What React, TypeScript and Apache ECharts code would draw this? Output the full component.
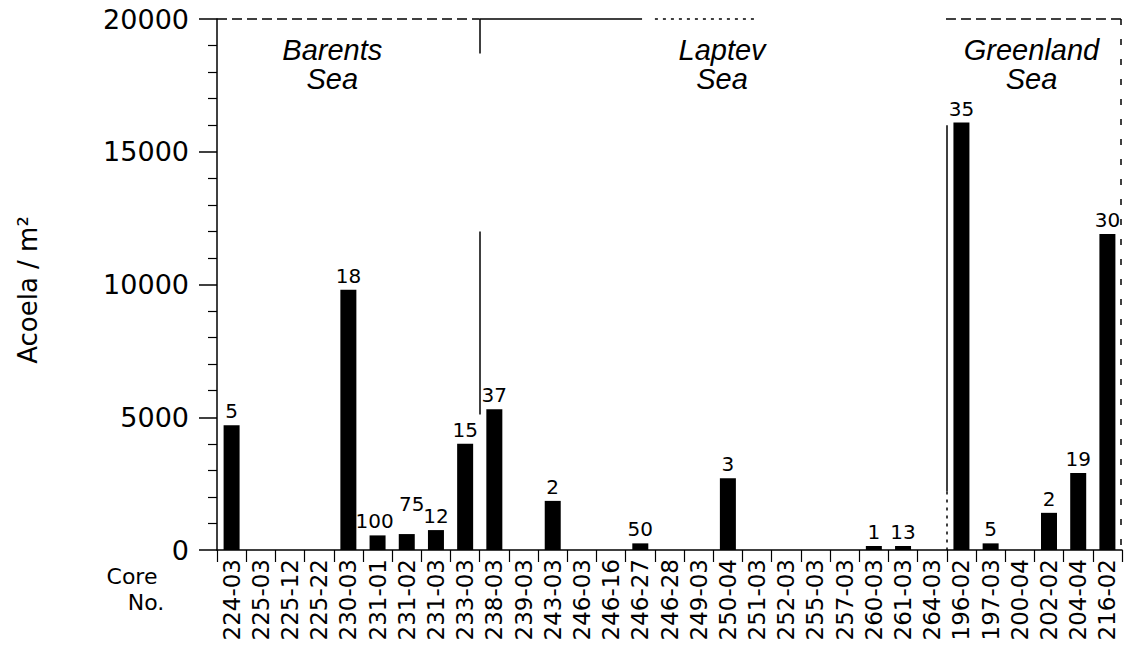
import React, { useEffect, useRef } from "react";
import * as echarts from "echarts";

const categories = [
  "224-03", "225-03", "225-12", "225-22", "230-03", "231-01", "231-02", "231-03", "233-03",
  "238-03", "239-03", "243-03", "246-03", "246-16", "246-27", "246-28", "249-03", "250-04",
  "251-03", "252-03", "255-03", "257-03", "260-03", "261-03", "264-03",
  "196-02", "197-03", "200-04", "202-02", "204-04", "216-02",
];
const acoelaPerM2 = [
  4700, 0, 0, 0, 9800, 550, 600, 750, 4000,
  5300, 0, 1850, 0, 0, 250, 0, 0, 2700,
  0, 0, 0, 0, 150, 150, 0,
  16100, 250, 0, 1400, 2900, 11900,
];
const sampleCounts: (number | null)[] = [
  5, null, null, null, 18, 100, 75, 12, 15,
  37, null, 2, null, null, 50, null, null, 3,
  null, null, null, null, 1, 13, null,
  35, 5, null, 2, 19, 30,
];
const yTickValues = [0, 5000, 10000, 15000, 20000];
const regionNames = ["Barents\nSea", "Laptev\nSea", "Greenland\nSea"];
const regionCenters = [3.95, 17.3, 27.9];
const regionLabelY = 18270;

// separators / frame segments: [x1, y1, x2, y2, dash]
const frameSegments: [number, number, number, number, string][] = [
  [0, 20000, 9, 20000, "dashed"],
  [9, 20000, 14.56, 20000, "solid"],
  [15.0, 20000, 18.43, 20000, "dotted"],
  [24.97, 20000, 31, 20000, "dashed"],
  [9, 20000, 9, 18700, "solid"],
  [9, 12000, 9, 5100, "solid"],
  [25, 16000, 25, 2200, "solid"],
  [25, 2200, 25, 0, "dotted"],
  [30.97, 20000, 30.97, 0, "sparse"],
];

function dashOf(kind: string): any {
  if (kind === "dashed") return [10, 5];
  if (kind === "dotted") return [3, 5];
  if (kind === "sparse") return [6, 14];
  return "solid";
}

export default function App() {
  const ref = useRef<HTMLDivElement>(null);
  useEffect(() => {
    const chart = echarts.init(ref.current!, null, { renderer: "svg" });
    const option: any = {
      animation: false,
      backgroundColor: "#ffffff",
      grid: { left: 217, right: 3, top: 19, bottom: 102, containLabel: false },
      xAxis: [
        {
          type: "category",
          data: categories,
          boundaryGap: true,
          axisLine: { show: true, lineStyle: { color: "#000", width: 1.5 } },
          axisTick: { show: true, alignWithLabel: false, length: 12, lineStyle: { color: "#000", width: 1.2 } },
          axisLabel: {
            rotate: 90,
            interval: 0,
            margin: 9,
            color: "#000",
            fontFamily: "DejaVu Sans",
            fontSize: 23,
          },
        },
        { type: "value", min: 0, max: 31, show: false },
      ],
      yAxis: {
        type: "value",
        min: 0,
        max: 20000,
        interval: 5000,
        axisLine: { show: true, lineStyle: { color: "#000", width: 1.5 } },
        axisTick: { show: true, inside: false, length: 18, lineStyle: { color: "#000", width: 1.5 } },
        minorTick: { show: true, splitNumber: 5, length: 9, lineStyle: { color: "#000", width: 1.2 } },
        splitLine: { show: false },
        axisLabel: {
          margin: 28,
          color: "#000",
          fontFamily: "DejaVu Sans",
          fontSize: 27,
          formatter: (v: number) => (yTickValues.includes(v) ? String(v) : ""),
        },
      },
      series: [
        {
          type: "bar",
          data: acoelaPerM2.map((v, i) => ({
            value: v,
            label:
              i === 5
                ? { show: true, offset: [-3, 0] }
                : i === 6
                ? { show: true, offset: [5, -16] }
                : { show: sampleCounts[i] !== null },
          })),
          barWidth: 16,
          itemStyle: { color: "#000" },
          label: {
            position: "top",
            distance: 4,
            color: "#000",
            fontFamily: "DejaVu Sans",
            fontSize: 20,
            formatter: (p: any) => (sampleCounts[p.dataIndex] === null ? "" : String(sampleCounts[p.dataIndex])),
          },
        },
        {
          type: "scatter",
          xAxisIndex: 1,
          yAxisIndex: 0,
          data: [[0, 0]],
          symbolSize: 0,
          silent: true,
          markLine: {
            silent: true,
            symbol: ["none", "none"],
            label: { show: false },
            data: frameSegments.map(([x1, y1, x2, y2, k]) => [
              { coord: [x1, y1], lineStyle: { color: "#000", width: 1.5, type: dashOf(k) } },
              { coord: [x2, y2] },
            ]),
          },
          markPoint: {
            silent: true,
            symbol: "circle",
            symbolSize: 0,
            data: regionNames.map((n, i) => ({
              name: n,
              coord: [regionCenters[i], regionLabelY],
              label: {
                show: true,
                position: "inside",
                formatter: n,
                color: "#000",
                fontFamily: "Liberation Sans",
                fontStyle: "italic",
                fontSize: 29,
                lineHeight: 29,
                align: "center",
                verticalAlign: "middle",
              },
            })),
          },
        },
      ],
      graphic: [
        {
          type: "text",
          x: 28,
          y: 290,
          rotation: Math.PI / 2,
          style: {
            text: "Acoela / m²",
            fill: "#000",
            font: "26px 'DejaVu Sans'",
            textAlign: "center",
            textVerticalAlign: "middle",
          },
        },
        {
          type: "text",
          x: 132,
          y: 576,
          style: { text: "Core", fill: "#000", font: "22px 'DejaVu Sans'", textAlign: "center", textVerticalAlign: "middle" },
        },
        {
          type: "text",
          x: 146,
          y: 602,
          style: { text: "No.", fill: "#000", font: "22px 'DejaVu Sans'", textAlign: "center", textVerticalAlign: "middle" },
        },
      ],
    };
    chart.setOption(option);
    return () => chart.dispose();
  }, []);
  return <div ref={ref} style={{ position: "fixed", left: 0, top: 0, width: 1125, height: 652 }} />;
}
